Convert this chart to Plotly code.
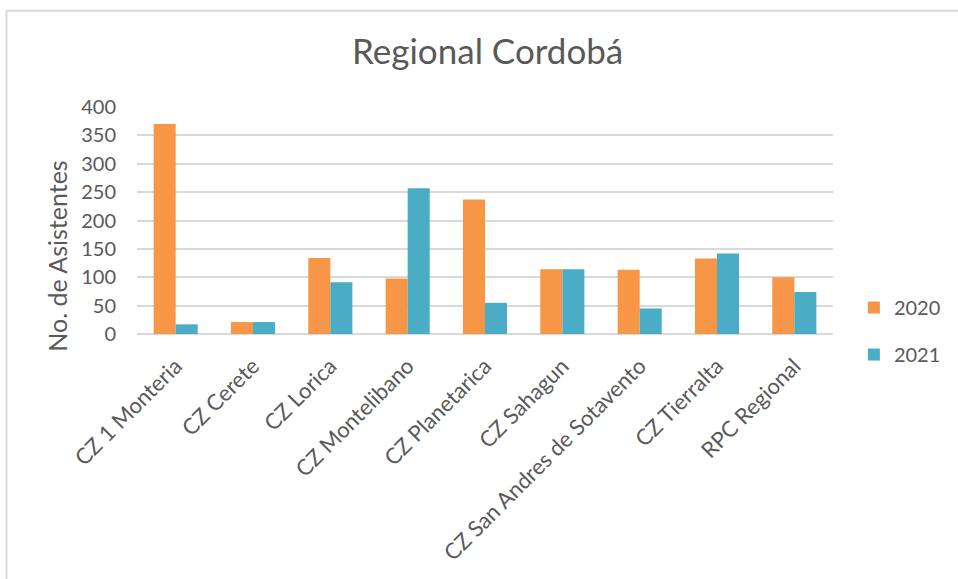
import plotly.graph_objects as go

# Attendance per zone centre, Regional Córdoba
categorias = [
    "CZ 1 Monteria",
    "CZ Cerete",
    "CZ Lorica",
    "CZ Montelibano",
    "CZ Planetarica",
    "CZ Sahagun",
    "CZ San Andres de Sotavento",
    "CZ Tierralta",
    "RPC Regional",
]
asistentes_2020 = [370, 21, 134, 98, 237, 114, 113, 133, 100]
asistentes_2021 = [17, 21, 91, 257, 55, 114, 45, 142, 74]
y_ticks = [0, 50, 100, 150, 200, 250, 300, 350, 400]

FONT = "Lato, 'Open Sans', sans-serif"
TEXT = "#595959"
GRID = "#D9D9D9"

fig = go.Figure()
fig.add_trace(go.Bar(name="2020", x=categorias, y=asistentes_2020,
                     marker=dict(color="#F79646", line=dict(width=0)),
                     legendgroup="a"))
fig.add_trace(go.Bar(name="2021", x=categorias, y=asistentes_2021,
                     marker=dict(color="#4BACC6", line=dict(width=0)),
                     legendgroup="b"))

fig.update_layout(
    width=958, height=579,
    margin=dict(l=137, r=125, t=107, b=245, autoexpand=False),
    paper_bgcolor="white", plot_bgcolor="white",
    font=dict(family=FONT, color=TEXT, size=18),
    barmode="group", bargap=0.43, bargroupgap=0,
    title=dict(text="Regional Cordobá", x=0.509, xanchor="center",
               y=1 - 52 / 579, yanchor="middle", yref="container",
               font=dict(size=35, color=TEXT, family=FONT)),
    legend=dict(x=1.03, xanchor="left", y=0.013, yanchor="middle",
                font=dict(size=20, color=TEXT), tracegroupgap=18,
                itemwidth=30, bgcolor="rgba(0,0,0,0)"),
    showlegend=True,
)

fig.update_yaxes(
    range=[0, 400], tickvals=y_ticks, ticktext=[str(v) for v in y_ticks],
    showgrid=True, gridcolor=GRID, gridwidth=1.5,
    zeroline=True, zerolinecolor=GRID, zerolinewidth=1.5,
    showline=False, ticks="", ticklabelstandoff=20,
    tickfont=dict(size=20, color=TEXT),
)
fig.update_xaxes(
    tickangle=-45, showgrid=False, showline=False, ticks="",
    ticklabelstandoff=14, tickfont=dict(size=22, color=TEXT),
)

# axis title placed as an annotation
fig.add_annotation(text="No. de Asistentes", xref="paper", yref="paper",
                   x=-0.115, y=0.345, textangle=-90, showarrow=False,
                   font=dict(size=25, color=TEXT, family=FONT),
                   xanchor="center", yanchor="middle")

# chart-area border
fig.add_shape(type="rect", xref="paper", yref="paper",
              x0=-0.1875, x1=1.3, y0=-1.5, y1=1.424,
              line=dict(color=GRID, width=2), fillcolor="rgba(0,0,0,0)",
              layer="below")

fig.write_html("out.html")
